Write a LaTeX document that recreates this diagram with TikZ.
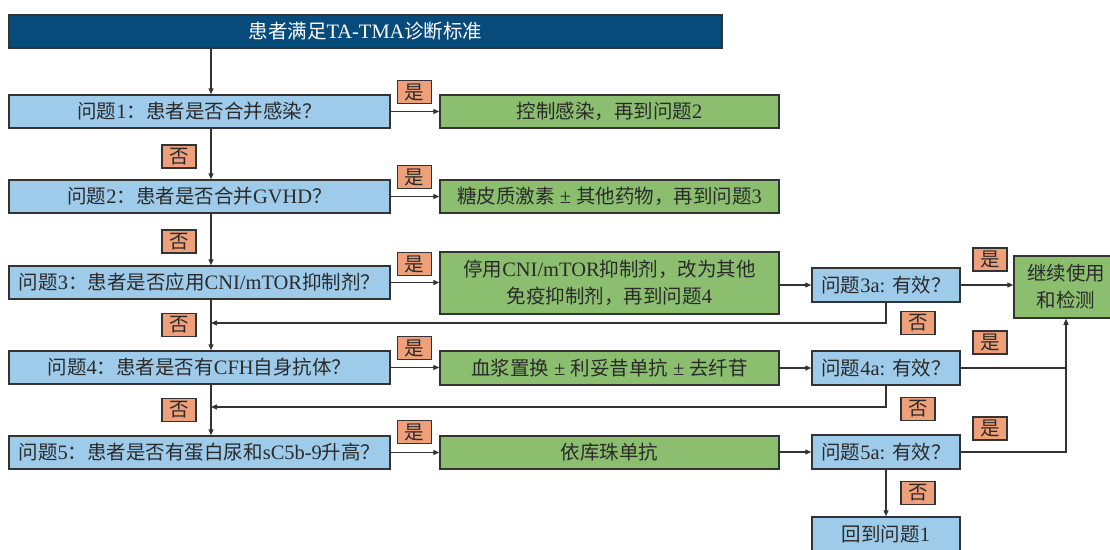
\documentclass[tikz,border=0pt]{standalone}
\usepackage{fontspec}
\setmainfont{Liberation Serif}[Scale=1.05]
\newfontfamily\cjk{Noto Sans CJK SC}
\newcommand\zh[1]{{\cjk #1}}
\usetikzlibrary{arrows.meta}
\definecolor{topblue}{HTML}{064B7B}
\definecolor{lblue}{HTML}{9ECBEA}
\definecolor{lgreen}{HTML}{8BBF6F}
\definecolor{salmon}{HTML}{EEA07B}
\definecolor{edge}{HTML}{333333}
\definecolor{txt}{HTML}{2A2A2A}
\tikzset{
  box/.style={draw=edge, line width=1.5pt, inner sep=0pt, text=txt,
    font=\fontsize{19.5}{27}\selectfont, align=center},
  topbox/.style={box, fill=topblue, text=white, minimum width=713pt, minimum height=33pt},
  qbox/.style={box, fill=lblue, minimum width=381pt, minimum height=33pt},
  gbox/.style={box, fill=lgreen, minimum width=339pt, minimum height=33pt},
  abox/.style={box, fill=lblue, minimum width=148pt, minimum height=34pt},
  tagbox/.style={draw=edge, line width=1.3pt, fill=salmon, inner sep=0pt, text=txt,
    minimum width=34pt, minimum height=23pt, font=\fontsize{19.5}{20}\selectfont},
  arr/.style={draw=edge, line width=1.3pt, -{Triangle[length=6pt,width=5pt]}},
  ln/.style={draw=edge, line width=1.3pt}
}
\begin{document}
\begin{tikzpicture}[x=1pt,y=-1pt]
\useasboundingbox (0,0) rectangle (1110,549);
\clip (0,0) rectangle (1110,549);
\coordinate (v) at (211,0);
\coordinate (m3) at (211,323);
\coordinate (m4) at (211,407);

\node[topbox] (top) at (365.5,31.5) {\zh{患者满足}TA-TMA\zh{诊断标准}};

\node[qbox] (q1) at (199.5,111.5) {\zh{问题}1\zh{：患者是否合并感染？}};
\node[gbox] (g1) at (609.5,111.5) {\zh{控制感染，再到问题}2};

\node[qbox] (q2) at (199.5,196.5) {\zh{问题}2\zh{：患者是否合并}GVHD\zh{？}};
\node[gbox] (g2) at (609.5,196.5) {\zh{糖皮质激素} ± \zh{其他药物，再到问题}3};

\node[qbox] (q3) at (199.5,282.5) {\zh{问题}3\zh{：患者是否应用}CNI/mTOR\zh{抑制剂？}};
\node[gbox, minimum height=62pt] (g3) at (609.5,283) {\zh{停用}CNI/mTOR\zh{抑制剂，改为其他}\\\zh{免疫抑制剂，再到问题}4};
\node[abox] (q3a) at (886,285) {\zh{问题}3a: \zh{有效？}};
\node[box, fill=lgreen, minimum width=104pt, minimum height=62pt] (cont) at (1066,287) {\zh{继续使用}\\\zh{和检测}};

\node[qbox] (q4) at (199.5,367.5) {\zh{问题}4\zh{：患者是否有}CFH\zh{自身抗体？}};
\node[gbox, minimum height=34pt] (g4) at (609.5,368) {\zh{血浆置换} ± \zh{利妥昔单抗} ± \zh{去纤苷}};
\node[abox] (q4a) at (886,368) {\zh{问题}4a: \zh{有效？}};

\node[qbox] (q5) at (199.5,452.5) {\zh{问题}5\zh{：患者是否有蛋白尿和}sC5b-9\zh{升高？}};
\node[gbox] (g5) at (609.5,452.5) {\zh{依库珠单抗}};
\node[abox] (q5a) at (886,452) {\zh{问题}5a: \zh{有效？}};
\node[abox] (ret) at (886,534) {\zh{回到问题}1};

% tags
\node[tagbox] (y1) at (414.5,92) {\zh{是}};
\node[tagbox] (n1) at (179,156.5) {\zh{否}};
\node[tagbox] (y2) at (414.5,177) {\zh{是}};
\node[tagbox] (n2) at (179,241.5) {\zh{否}};
\node[tagbox] (y3) at (414.5,264) {\zh{是}};
\node[tagbox] (y3a) at (990,259.5) {\zh{是}};
\node[tagbox] (n3a) at (918,323) {\zh{否}};
\node[tagbox] (n3) at (179,325) {\zh{否}};
\node[tagbox] (y4) at (414.5,348) {\zh{是}};
\node[tagbox] (y4a) at (990,342.5) {\zh{是}};
\node[tagbox] (n4a) at (918,409) {\zh{否}};
\node[tagbox] (n4) at (179,410) {\zh{否}};
\node[tagbox] (y5) at (414.5,432) {\zh{是}};
\node[tagbox] (y5a) at (990,428.5) {\zh{是}};
\node[tagbox] (n5a) at (918,493) {\zh{否}};

% vertical spine
\draw[arr] (top.south -| v) -- (q1.north -| v);
\draw[arr] (q1.south -| v) -- (q2.north -| v);
\draw[arr] (q2.south -| v) -- (q3.north -| v);
\draw[arr] (q3.south -| v) -- (q4.north -| v);
\draw[arr] (q4.south -| v) -- (q5.north -| v);

% yes branches
\draw[arr] (q1.east) -- (q1.east -| g1.west);
\draw[arr] (q2.east) -- (q2.east -| g2.west);
\draw[arr] (q3.east) -- (q3.east -| g3.west);
\draw[arr] (q4.east) -- (q4.east -| g4.west);
\draw[arr] (q5.east) -- (q5.east -| g5.west);

\draw[arr] (g3.east |- q3a.west) -- (q3a.west);
\draw[arr] (g4.east |- q4a.west) -- (q4a.west);
\draw[arr] (g5.east |- q5a.west) -- (q5a.west);

\draw[arr] (q3a.east) -- (q3a.east -| cont.west);
\draw[ln] (q4a.east) -- (q4a.east -| cont.south);
\draw[arr] (q5a.east) -| (cont.south);

% no branches
\draw[arr] (q3a.south) |- (m3);
\draw[arr] (q4a.south) |- (m4);
\draw[arr] (q5a.south) -- (ret.north);
\end{tikzpicture}
\end{document}
